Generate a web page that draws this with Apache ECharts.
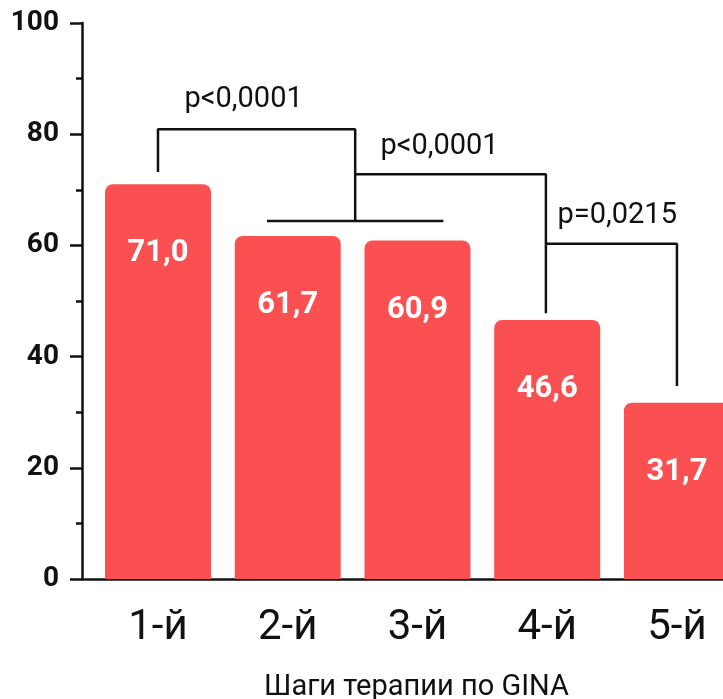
<!DOCTYPE html>
<html>
<head>
<meta charset="utf-8">
<script src="https://cdn.jsdelivr.net/npm/echarts@6/dist/echarts.min.js"></script>
<style>
html,body{margin:0;padding:0;background:#fff;}
#c{width:723px;height:699px;}
</style>
</head>
<body>
<div id="c"></div>
<script>
const categories = ['1-й', '2-й', '3-й', '4-й', '5-й'];
const values = [71.0, 61.7, 60.9, 46.6, 31.7];
const axisTitle = 'Шаги терапии по GINA';
// comparison brackets in data space (x = category index, y = value)
const bracket1 = [[0, 73.2], [0, 80.9], [1.52, 80.9], [1.52, 64.4]];
const bracket1Base = [[0.84, 64.4], [2.2, 64.4]];
const bracket2 = [[1.52, 72.8], [2.99, 72.8], [2.99, 47.8]];
const bracket3 = [[2.99, 60.3], [4.0, 60.3], [4.0, 34.7]];
const pTexts = ['p<0,0001', 'p<0,0001', 'p=0,0215'];
const pPositions = [[0.66, 86.2], [2.17, 77.7], [3.54, 65.3]];

const ink = '#111111';
const chart = echarts.init(document.getElementById('c'), null, {renderer: 'canvas'});

function bracketSeries(pts) {
  return {
    type: 'line', data: pts, symbol: 'none', silent: true, z: 5,
    lineStyle: {color: ink, width: 2.5}, animation: false
  };
}

chart.setOption({
  animation: false,
  grid: {left: 82, right: 0, top: 23, bottom: 120, outerBoundsMode: 'none', containLabel: false},
  xAxis: {
    type: 'value',
    min: -0.5857, max: 4.355,
    splitLine: {show: false},
    axisTick: {show: false},
    axisLine: {show: true, onZero: false, lineStyle: {color: ink, width: 2.5}},
    axisLabel: {
      customValues: [0, 1, 2, 3, 4],
      formatter: v => categories[Math.round(v)] || '',
      fontFamily: 'Roboto', fontSize: 42, color: ink, margin: 28
    },
    name: axisTitle,
    nameLocation: 'middle',
    nameGap: 94,
    nameTextStyle: {fontFamily: 'Roboto', fontSize: 29, color: ink, padding: [0, 0, 0, 28]}
  },
  yAxis: {
    type: 'value', min: 0, max: 100, interval: 20,
    splitLine: {show: false},
    axisLine: {show: true, onZero: false, lineStyle: {color: ink, width: 2.5}},
    axisTick: {show: true, length: 12, lineStyle: {color: ink, width: 2.5}},
    minorTick: {show: true, splitNumber: 2, length: 6, lineStyle: {color: ink, width: 2.5}},
    axisLabel: {fontFamily: 'Roboto', fontWeight: 'bold', fontSize: 28, color: ink, margin: 23}
  },
  series: [
    {
      type: 'bar',
      data: values.map((v, i) => [i, v]),
      barWidth: 106,
      itemStyle: {color: '#fa5052', borderRadius: [8, 8, 0, 0]},
      label: {
        show: true, position: 'insideTop', distance: 54,
        formatter: p => p.value[1].toFixed(1).replace('.', ','),
        fontFamily: 'Roboto', fontWeight: 'bold', fontSize: 31, color: '#fff'
      }
    },
    bracketSeries(bracket1),
    bracketSeries(bracket1Base),
    bracketSeries(bracket2),
    bracketSeries(bracket3),
    {
      type: 'scatter', symbolSize: 0, silent: true, z: 6,
      itemStyle: {opacity: 1},
      data: pPositions.map((p, i) => [p[0], p[1], pTexts[i]]),
      label: {
        show: true, position: 'inside', opacity: 1,
        formatter: p => p.value[2],
        fontFamily: 'Roboto', fontSize: 29, color: ink,
        textBorderWidth: 0
      }
    }
  ]
});
</script>
</body>
</html>
